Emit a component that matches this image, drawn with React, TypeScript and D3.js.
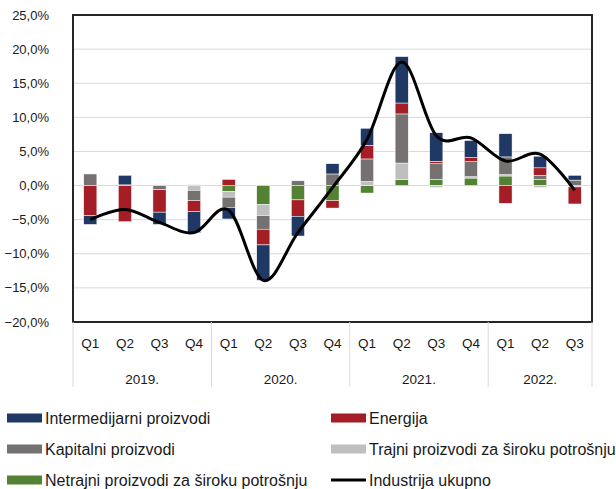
import React, { useMemo } from "react";
import * as d3 from "d3";

const WIDTH = 616;
const HEIGHT = 489;
const MARGIN = { top: 15, right: 24, bottom: 167, left: 73 };

const quarters = ["Q1", "Q2", "Q3", "Q4", "Q1", "Q2", "Q3", "Q4", "Q1", "Q2", "Q3", "Q4", "Q1", "Q2", "Q3"];
const years = ["2019.", "2020.", "2021.", "2022."];
const yearSpans = [4, 4, 4, 3];

const yTicks = [-20, -15, -10, -5, 0, 5, 10, 15, 20, 25];

// contributions, p.p.
const intermedijarni = [-1.3, 1.4, -1.8, -3.1, -1.7, -5.2, -2.9, 1.5, 2.5, 6.8, 4.2, 2.5, 3.4, 1.7, 0.7];
const energija = [-4.4, -5.3, -3.3, -1.6, 0.9, -2.3, -2.4, -1.1, 2.0, 1.6, 0.35, 0.6, -2.6, 1.1, -2.5];
const kapitalni = [1.7, 0.1, -0.6, -1.5, -1.5, -2.0, 0.7, 1.7, 3.3, 7.2, 2.3, 2.2, 2.6, 0.6, 0.8];
const trajni = [0, 0, 0.1, -0.7, -0.8, -1.6, 0, 0, 0.6, 2.4, -0.3, 0.2, 0.2, -0.3, -0.2];
const netrajni = [0, 0, 0, 0.1, -0.9, -2.8, -2.1, -2.2, -1.1, 0.9, 0.9, 1.1, 1.4, 0.9, 0];
const ukupno = [-5.0, -3.5, -5.4, -6.9, -3.6, -13.9, -6.9, -0.3, 6.8, 18.1, 7.3, 7.0, 3.6, 4.6, -0.7];

const seriesNames = [
  "Intermedijarni proizvodi",
  "Energija",
  "Kapitalni proizvodi",
  "Trajni proizvodi za široku potrošnju",
  "Netrajni proizvodi za široku potrošnju",
];
const seriesColors = ["#1F3864", "#A51D25", "#767171", "#BFBFBF", "#548235"];
const lineName = "Industrija ukupno";

const FONT = "'Liberation Sans', Arial, sans-serif";

export default function App() {
  const innerW = WIDTH - MARGIN.left - MARGIN.right;
  const innerH = HEIGHT - MARGIN.top - MARGIN.bottom;

  const x = useMemo(
    () =>
      d3
        .scaleBand<number>()
        .domain(d3.range(quarters.length))
        .range([0, innerW])
        .paddingInner(0.62)
        .paddingOuter(0.31),
    [innerW]
  );
  const y = useMemo(() => d3.scaleLinear().domain([-20, 25]).range([innerH, 0]), [innerH]);

  // stack order from zero outward: netrajni, trajni, kapitalni, energija, intermedijarni
  const stacked = useMemo(() => {
    const rows = quarters.map((_, i) => ({
      s0: intermedijarni[i],
      s1: energija[i],
      s2: kapitalni[i],
      s3: trajni[i],
      s4: netrajni[i],
    }));
    return d3
      .stack<any>()
      .keys(["s4", "s3", "s2", "s1", "s0"])
      .offset(d3.stackOffsetDiverging)(rows);
  }, []);

  const linePath = useMemo(
    () =>
      d3
        .line<number>()
        .x((_, i) => (x(i) ?? 0) + x.bandwidth() / 2)
        .y((d) => y(d))
        .curve(d3.curveCardinal.tension(0))(ukupno),
    [x, y]
  );

  const step = x.step();
  let acc = 0;
  const yearGroups = years.map((label, i) => {
    const start = acc;
    acc += yearSpans[i];
    return { label, x0: start * step, x1: acc * step };
  });

  const legendItems = [
    { name: seriesNames[0], color: seriesColors[0], col: 0, row: 0 },
    { name: seriesNames[1], color: seriesColors[1], col: 1, row: 0 },
    { name: seriesNames[2], color: seriesColors[2], col: 0, row: 1 },
    { name: seriesNames[3], color: seriesColors[3], col: 1, row: 1 },
    { name: seriesNames[4], color: seriesColors[4], col: 0, row: 2 },
    { name: lineName, color: "#000", col: 1, row: 2, line: true },
  ];

  return (
    <svg
      width={WIDTH}
      height={HEIGHT}
      style={{ position: "absolute", left: 0, top: 0, background: "#fff" }}
      fontFamily={FONT}
    >
      <g transform={`translate(${MARGIN.left},${MARGIN.top})`}>
        {/* grid */}
        {yTicks
          .filter((t) => t > -20 && t < 25)
          .map((t) => (
            <line key={t} x1={0} x2={innerW} y1={y(t)} y2={y(t)} stroke="#D9D9D9" strokeWidth={1} />
          ))}
        {/* y tick labels */}
        {yTicks.map((t) => (
          <text
            key={t}
            x={-24}
            y={y(t)}
            dy="0.35em"
            textAnchor="end"
            fontSize={13}
            fill="#1a1a1a"
          >
            {d3.format(".1f")(t).replace(".", ",") + "%"}
          </text>
        ))}
        {/* bars */}
        {stacked.map((layer) => {
          const idx = Number(layer.key.slice(1));
          return (
            <g key={layer.key} fill={seriesColors[idx]} stroke="#fff" strokeWidth={0.5}>
              {layer.map((d, i) => {
                const y0 = y(Math.max(d[0], d[1]));
                const y1 = y(Math.min(d[0], d[1]));
                if (y1 - y0 <= 0) return null;
                return (
                  <rect key={i} x={x(i)} width={x.bandwidth()} y={y0} height={y1 - y0} />
                );
              })}
            </g>
          );
        })}
        {/* total line */}
        <path d={linePath ?? ""} fill="none" stroke="#000" strokeWidth={3} strokeLinejoin="round" />
        {/* frame */}
        <rect x={0} y={0} width={innerW} height={innerH} fill="none" stroke="#262626" strokeWidth={2} />
        {/* x axis: quarters */}
        {quarters.map((q, i) => (
          <text
            key={i}
            x={(x(i) ?? 0) + x.bandwidth() / 2}
            y={innerH + 21}
            dy="0.35em"
            textAnchor="middle"
            fontSize={13.5}
            fill="#1a1a1a"
          >
            {q}
          </text>
        ))}
        {/* x axis: year groups */}
        {yearGroups.map((g, i) => (
          <g key={g.label}>
            <line x1={g.x0} x2={g.x0} y1={innerH} y2={innerH + 65} stroke="#D9D9D9" strokeWidth={1} />
            {i === yearGroups.length - 1 && (
              <line x1={innerW} x2={innerW} y1={innerH} y2={innerH + 65} stroke="#D9D9D9" strokeWidth={1} />
            )}
            <text
              x={(g.x0 + g.x1) / 2}
              y={innerH + 57}
              dy="0.35em"
              textAnchor="middle"
              fontSize={13.5}
              fill="#1a1a1a"
            >
              {g.label}
            </text>
          </g>
        ))}
      </g>
      {/* legend */}
      <g>
        {legendItems.map((it) => {
          const lx = it.col === 0 ? 7 : 331;
          const ly = 418 + it.row * 31;
          return (
            <g key={it.name} transform={`translate(${lx},${ly})`}>
              {it.line ? (
                <line x1={0} x2={35} y1={0} y2={0} stroke="#000" strokeWidth={3} />
              ) : (
                <rect x={0} y={-4.5} width={35} height={9} fill={it.color} />
              )}
              <text x={38} y={0} dy="0.35em" fontSize={16} fill="#1a1a1a">
                {it.name}
              </text>
            </g>
          );
        })}
      </g>
    </svg>
  );
}
